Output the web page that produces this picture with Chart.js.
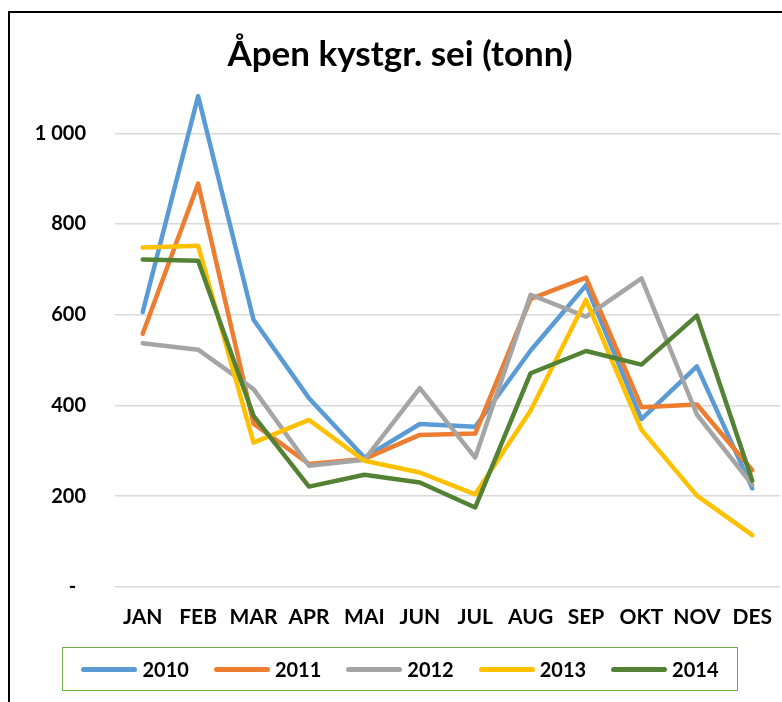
<!DOCTYPE html>
<html lang="no">
<head>
<meta charset="utf-8">
<title>Åpen kystgr. sei (tonn)</title>
<script src="https://cdn.jsdelivr.net/npm/chart.js@4"></script>
<style>
    html, body {
        margin: 0;
        padding: 0;
        background: #fff;
        width: 782px;
        height: 702px;
        overflow: hidden;
    }
    .frame {
        position: absolute;
        left: 8px;
        top: 11px;
        width: 900px;
        height: 900px;
        border: 2px solid #000;
    }
    #chart {
        position: absolute;
        left: 0;
        top: 0;
    }
    .legend {
        position: absolute;
        left: 62px;
        top: 647px;
        width: 674px;
        height: 42px;
        border: 1.5px solid #70ad47;
        display: flex;
        align-items: center;
        justify-content: center;
        gap: 25px;
        font: bold 20px Lato, sans-serif;
        color: #000;
    }
    .legend-item {
        display: flex;
        align-items: center;
        gap: 5px;
    }
    .legend-line {
        width: 56px;
        height: 5px;
        border-radius: 3px;
    }
</style>
</head>
<body>
<div class="frame"></div>
<canvas id="chart" width="782" height="702"></canvas>
<div class="legend" id="legend"></div>

<script>
// Månedlige fangster per år
const months = ['JAN', 'FEB', 'MAR', 'APR', 'MAI', 'JUN', 'JUL', 'AUG', 'SEP', 'OKT', 'NOV', 'DES'];
const years = ['2010', '2011', '2012', '2013', '2014'];
const colors = ['#5b9bd5', '#ed7d31', '#a5a5a5', '#ffc000', '#548235'];

const sei2010 = [606, 1082, 589, 416, 285, 359, 353, 521, 665, 370, 486, 217];
const sei2011 = [558, 889, 360, 271, 282, 335, 338, 635, 682, 396, 402, 257];
const sei2012 = [537, 523, 436, 267, 280, 438, 285, 644, 596, 680, 380, 225];
const sei2013 = [748, 752, 318, 368, 278, 252, 204, 389, 633, 346, 201, 114];
const sei2014 = [722, 719, 377, 221, 247, 230, 175, 471, 520, 490, 598, 234];

const yTicks = [0, 200, 400, 600, 800, 1000];

const series = [sei2010, sei2011, sei2012, sei2013, sei2014];

// Tall med mellomrom som tusenskille, "-" for null
function formatTonn(v) {
    if (v === 0) return '-  ';
    return String(v).replace(/\B(?=(\d{3})+(?!\d))/g, ' ');
}

const datasets = series.map((data, i) => ({
    label: years[i],
    data: data,
    borderColor: colors[i],
    backgroundColor: colors[i],
    borderWidth: 4.5,
    borderCapStyle: 'round',
    borderJoinStyle: 'round',
    pointRadius: 0,
    pointHoverRadius: 0,
    tension: 0,
    fill: false,
    order: series.length - i
}));

const ctx = document.getElementById('chart').getContext('2d');
const chart = new Chart(ctx, {
    type: 'line',
    data: {
        labels: months,
        datasets: datasets
    },
    options: {
        responsive: false,
        animation: false,
        devicePixelRatio: 1,
        layout: {
            padding: { left: 20, right: 2, top: 0, bottom: 54 }
        },
        plugins: {
            legend: { display: false },
            tooltip: { enabled: false },
            title: {
                display: true,
                text: 'Åpen kystgr. sei (tonn)',
                color: '#000',
                font: { family: 'Lato', size: 35, weight: 'bold', lineHeight: 1.2 },
                padding: { top: 34, bottom: 12 }
            }
        },
        scales: {
            x: {
                offset: true,
                afterFit: (scale) => {
                    // etikettene får plass innenfor plottet
                    scale.paddingLeft = 0;
                    scale.paddingRight = 0;
                },
                grid: { display: false, drawTicks: false },
                border: { display: false },
                ticks: {
                    color: '#000',
                    padding: 18,
                    maxRotation: 0,
                    autoSkip: false,
                    font: { family: 'Lato', size: 21, weight: 'bold' }
                }
            },
            y: {
                min: 0,
                max: 1100,
                afterFit: (scale) => { scale.width = 95; },
                afterBuildTicks: (scale) => {
                    scale.ticks = yTicks.map(v => ({ value: v }));
                },
                grid: {
                    color: '#d9d9d9',
                    lineWidth: 1.5,
                    drawTicks: false
                },
                border: { display: false },
                ticks: {
                    color: '#000',
                    padding: 29,
                    callback: (v) => formatTonn(v),
                    font: { family: 'Lato', size: 20, weight: 'bold' }
                }
            }
        }
    }
});

// Forklaring under diagrammet
const legendEl = document.getElementById('legend');
chart.data.datasets.forEach(ds => {
    const item = document.createElement('div');
    item.className = 'legend-item';
    item.innerHTML = `<span class="legend-line" style="background:${ds.borderColor}"></span><span>${ds.label}</span>`;
    legendEl.appendChild(item);
});
</script>
</body>
</html>
